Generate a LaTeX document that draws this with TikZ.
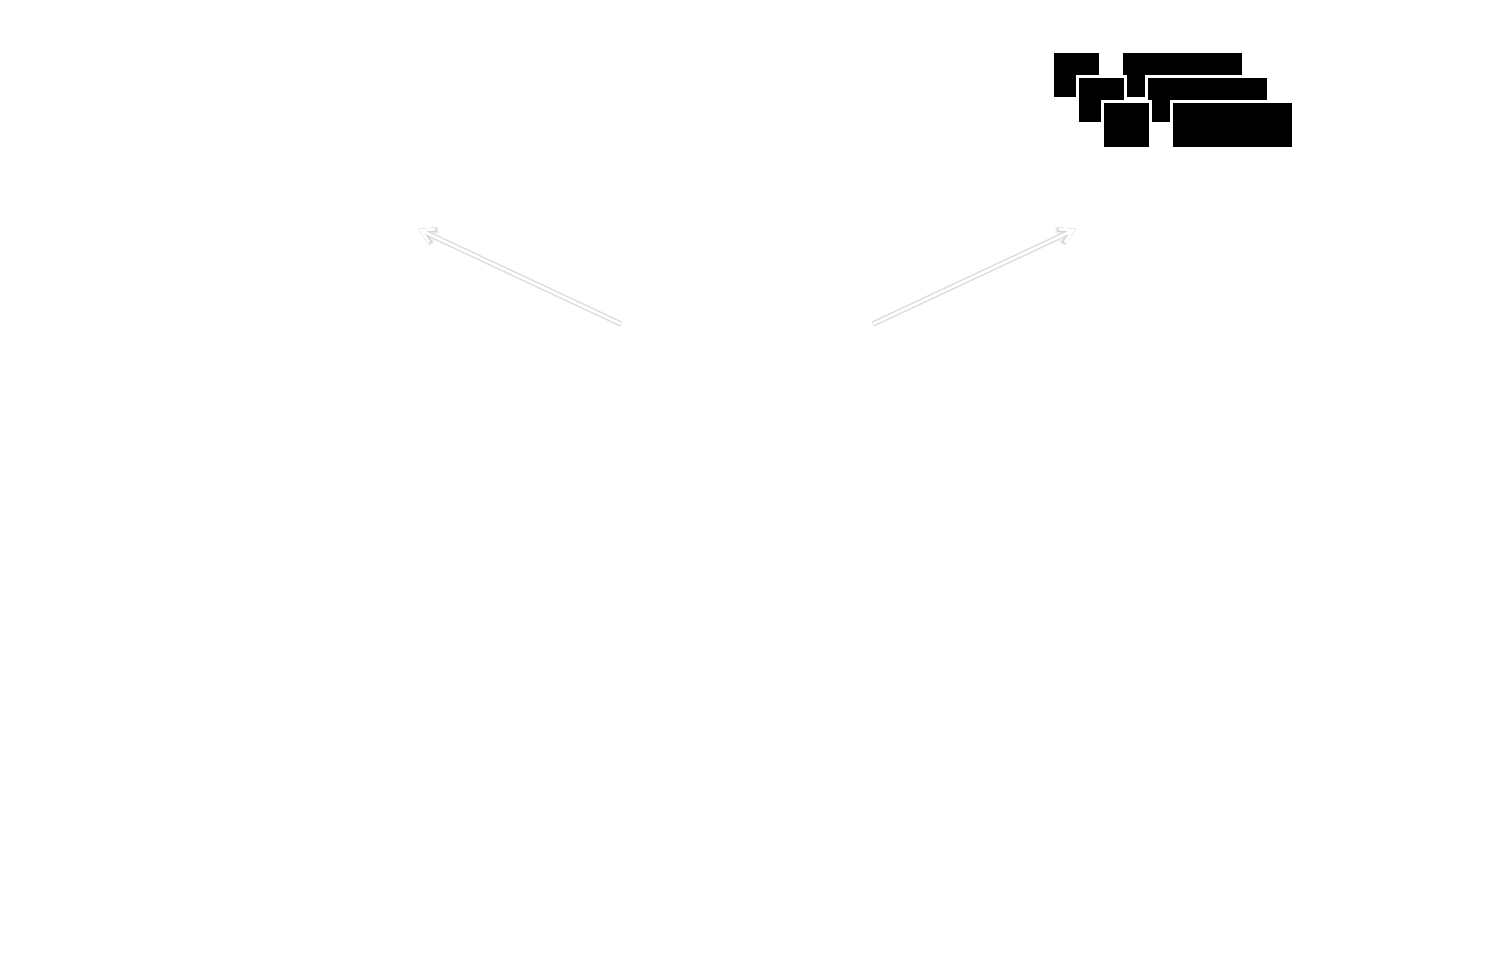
\documentclass[tikz,border=0pt]{standalone}
\usetikzlibrary{arrows.meta}
\begin{document}
\begin{tikzpicture}[x=1pt,y=-1pt,
  blk/.style={draw=white,line width=3pt,fill=black,inner sep=0pt,minimum height=47pt},
  sq/.style={blk,minimum width=48pt},
  lng/.style={blk,minimum width=122pt},
  tipstyle/.style={-{Straight Barb[length=13pt,width=15pt,line width=#1]}},
  shad/.style 2 args={tipstyle=#1,draw=#2,line width=#1},
  wharrow/.style={tipstyle=3pt,draw=white,line width=3pt}]
\fill[white] (0,0) rectangle (1501,962);
\useasboundingbox (0,0) rectangle (1501,962);
% stacked black boxes
\node[sq]  (a) at (1076,74.5) {};
\node[lng] (b) at (1182,74.5) {};
\node[sq]  (c) at (1101,99.5) {};
\node[lng] (d) at (1207,99.5) {};
\node[sq]  (e) at (1126,124.5) {};
\node[lng] (f) at (1232,124.5) {};
% arrows
\coordinate (ls) at (621,324);
\coordinate (lt) at (418,229);
\coordinate (rs) at (873,324);
\coordinate (rt) at (1076,229);
\begin{scope}[shift={(1.4,3.2)}]
  \draw[shad={6pt}{black!7}] (ls) -- (lt);
  \draw[shad={6pt}{black!7}] (rs) -- (rt);
  \draw[shad={4.5pt}{black!16}] (ls) -- (lt);
  \draw[shad={4.5pt}{black!16}] (rs) -- (rt);
  \draw[shad={3pt}{black!30}] (ls) -- (lt);
  \draw[shad={3pt}{black!30}] (rs) -- (rt);
\end{scope}
\draw[wharrow] (ls) -- (lt);
\draw[wharrow] (rs) -- (rt);
\end{tikzpicture}
\end{document}
